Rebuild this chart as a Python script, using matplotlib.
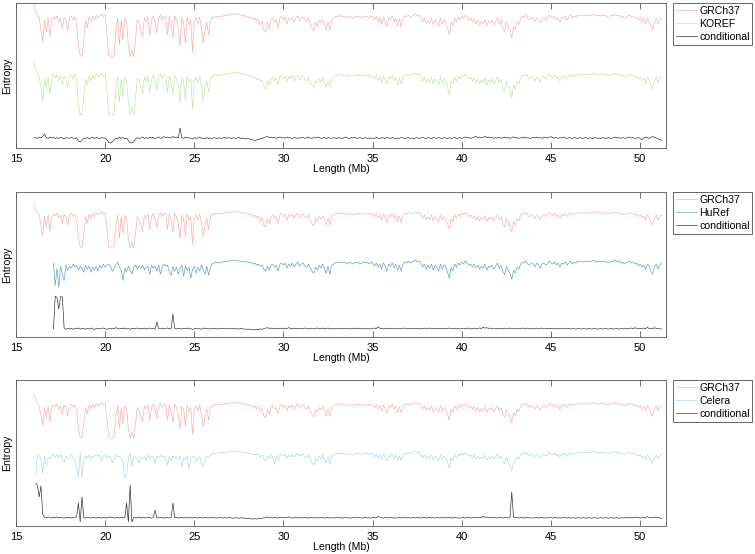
import numpy as np
import matplotlib
matplotlib.use("Agg")
import matplotlib.pyplot as plt

plt.rcParams["font.family"] = ["Liberation Sans", "DejaVu Sans"]

# sampling of all series (Mb)
step = 0.1

# entropy per window, millibits, GRCh37 from 16.0 Mb
grch37 = [
    1970, 1925, 1910, 1895, 1835, 1775, 1885, 1825, 1895, 1800,
    1885, 1900, 1890, 1905, 1875, 1895, 1845, 1900, 1885, 1835,
    1895, 1905, 1885, 1900, 1860, 1760, 1705, 1705, 1785, 1885,
    1845, 1900, 1875, 1905, 1885, 1910, 1895, 1905, 1915, 1900,
    1910, 1810, 1710, 1705, 1700, 1710, 1835, 1895, 1760, 1885,
    1785, 1895, 1875, 1760, 1700, 1735, 1700, 1785, 1885, 1870,
    1835, 1800, 1895, 1875, 1900, 1810, 1885, 1905, 1875, 1820,
    1895, 1910, 1885, 1905, 1895, 1810, 1900, 1860, 1795, 1905,
    1885, 1845, 1755, 1895, 1875, 1770, 1900, 1860, 1885, 1725,
    1875, 1895, 1865, 1900, 1845, 1770, 1835, 1875, 1810, 1885,
    1900, 1895, 1905, 1900, 1905, 1900, 1905, 1910, 1905, 1910,
    1910, 1915, 1915, 1915, 1910, 1915, 1910, 1905, 1910, 1900,
    1905, 1895, 1900, 1885, 1895, 1875, 1890, 1860, 1880, 1835,
    1825, 1875, 1845, 1885, 1895, 1875, 1885, 1845, 1895, 1905,
    1885, 1900, 1865, 1895, 1885, 1900, 1875, 1895, 1905, 1880,
    1895, 1900, 1885, 1875, 1895, 1865, 1845, 1830, 1875, 1855,
    1885, 1870, 1890, 1865, 1835, 1875, 1835, 1885, 1895, 1900,
    1905, 1900, 1910, 1900, 1905, 1900, 1895, 1905, 1900, 1895,
    1905, 1900, 1905, 1895, 1900, 1905, 1900, 1905, 1895, 1905,
    1900, 1885, 1905, 1875, 1895, 1865, 1900, 1880, 1850, 1895,
    1885, 1905, 1875, 1895, 1855, 1890, 1850, 1895, 1905, 1900,
    1910, 1900, 1905, 1910, 1915, 1905, 1910, 1900, 1875, 1895,
    1865, 1885, 1870, 1895, 1860, 1885, 1875, 1855, 1895, 1865,
    1885, 1875, 1845, 1810, 1875, 1855, 1895, 1875, 1900, 1885,
    1905, 1895, 1910, 1900, 1885, 1895, 1875, 1890, 1865, 1885,
    1860, 1880, 1865, 1890, 1855, 1880, 1870, 1885, 1860, 1880,
    1895, 1865, 1885, 1845, 1825, 1875, 1855, 1835, 1795, 1855,
    1835, 1875, 1860, 1895, 1905, 1900, 1910, 1895, 1885, 1900,
    1890, 1875, 1895, 1885, 1870, 1890, 1900, 1885, 1895, 1910,
    1900, 1890, 1905, 1885, 1895, 1875, 1900, 1890, 1905, 1885,
    1900, 1910, 1895, 1905, 1900, 1910, 1905, 1910, 1905, 1910,
    1905, 1910, 1905, 1910, 1915, 1905, 1910, 1905, 1910, 1905,
    1910, 1905, 1900, 1905, 1910, 1905, 1915, 1905, 1910, 1900,
    1905, 1895, 1900, 1905, 1910, 1900, 1905, 1895, 1900, 1885,
    1895, 1875, 1890, 1865, 1895, 1880, 1855, 1835, 1875, 1895,
    1865, 1890, 1895,
]

# KOREF from 16.0 Mb
koref = [
    1970, 1930, 1905, 1890, 1840, 1770, 1880, 1830, 1890, 1805,
    1880, 1905, 1885, 1900, 1870, 1895, 1850, 1895, 1880, 1840,
    1890, 1900, 1880, 1905, 1865, 1755, 1700, 1705, 1790, 1880,
    1850, 1895, 1870, 1900, 1880, 1905, 1890, 1900, 1910, 1895,
    1905, 1815, 1705, 1700, 1700, 1705, 1840, 1890, 1765, 1880,
    1790, 1890, 1870, 1765, 1700, 1740, 1700, 1780, 1880, 1875,
    1840, 1805, 1890, 1870, 1895, 1815, 1880, 1900, 1870, 1825,
    1890, 1905, 1880, 1900, 1890, 1815, 1895, 1865, 1800, 1900,
    1880, 1850, 1760, 1890, 1870, 1775, 1895, 1865, 1880, 1730,
    1870, 1890, 1860, 1895, 1850, 1775, 1840, 1870, 1815, 1880,
    1895, 1900, 1900, 1895, 1905, 1900, 1900, 1905, 1905, 1910,
    1905, 1910, 1915, 1910, 1910, 1915, 1905, 1905, 1910, 1900,
    1900, 1895, 1895, 1885, 1890, 1875, 1885, 1865, 1875, 1840,
    1830, 1870, 1850, 1880, 1890, 1870, 1885, 1850, 1890, 1900,
    1880, 1895, 1870, 1890, 1880, 1900, 1870, 1890, 1900, 1875,
    1890, 1895, 1880, 1870, 1890, 1860, 1850, 1835, 1870, 1860,
    1880, 1865, 1885, 1860, 1840, 1870, 1840, 1880, 1890, 1895,
    1900, 1900, 1905, 1895, 1900, 1900, 1890, 1900, 1895, 1895,
    1900, 1895, 1905, 1890, 1900, 1900, 1895, 1900, 1890, 1900,
    1895, 1880, 1900, 1870, 1890, 1860, 1895, 1875, 1855, 1890,
    1880, 1900, 1870, 1890, 1850, 1885, 1855, 1890, 1900, 1895,
    1905, 1895, 1900, 1905, 1910, 1900, 1905, 1895, 1870, 1890,
    1860, 1880, 1865, 1890, 1855, 1880, 1870, 1850, 1890, 1860,
    1880, 1870, 1840, 1800, 1870, 1850, 1890, 1870, 1895, 1880,
    1900, 1890, 1905, 1895, 1880, 1890, 1870, 1885, 1860, 1880,
    1855, 1875, 1860, 1885, 1850, 1875, 1865, 1880, 1855, 1875,
    1890, 1860, 1880, 1840, 1820, 1870, 1850, 1830, 1785, 1850,
    1830, 1870, 1855, 1890, 1900, 1895, 1905, 1890, 1880, 1895,
    1885, 1870, 1890, 1880, 1865, 1885, 1895, 1880, 1890, 1905,
    1895, 1885, 1900, 1880, 1890, 1870, 1895, 1885, 1900, 1880,
    1895, 1905, 1890, 1900, 1895, 1905, 1900, 1905, 1900, 1905,
    1900, 1905, 1900, 1905, 1910, 1900, 1905, 1900, 1905, 1900,
    1905, 1900, 1895, 1900, 1905, 1900, 1910, 1900, 1905, 1895,
    1900, 1890, 1895, 1900, 1905, 1895, 1900, 1890, 1895, 1880,
    1890, 1870, 1885, 1860, 1890, 1875, 1850, 1830, 1870, 1890,
    1860, 1885, 1890,
]

# HuRef from 17.1 Mb
huref = [
    1894, 1762, 1864, 1750, 1876, 1828, 1792, 1882, 1852,
    1876, 1864, 1888, 1870, 1882, 1852, 1876, 1864, 1840, 1882,
    1858, 1876, 1840, 1870, 1852, 1876, 1846, 1882, 1864, 1888,
    1870, 1882, 1888, 1876, 1846, 1864, 1882, 1900, 1870, 1852,
    1792, 1864, 1840, 1876, 1852, 1828, 1870, 1882, 1858, 1876,
    1864, 1882, 1852, 1870, 1876, 1828, 1882, 1864, 1876, 1846,
    1882, 1828, 1870, 1888, 1876, 1882, 1840, 1822, 1876, 1846,
    1870, 1828, 1864, 1882, 1816, 1876, 1852, 1870, 1804, 1858,
    1876, 1834, 1870, 1846, 1882, 1852, 1828, 1876, 1822, 1870,
    1888, 1894, 1900, 1894, 1900, 1894, 1900, 1906, 1900, 1906,
    1906, 1912, 1912, 1906, 1912, 1906, 1906, 1900, 1906, 1900,
    1900, 1894, 1900, 1888, 1894, 1882, 1888, 1876, 1882, 1858,
    1846, 1876, 1852, 1882, 1888, 1870, 1882, 1846, 1888, 1894,
    1882, 1894, 1864, 1888, 1876, 1894, 1870, 1888, 1900, 1876,
    1888, 1894, 1876, 1870, 1888, 1864, 1846, 1834, 1870, 1852,
    1882, 1864, 1888, 1858, 1834, 1876, 1828, 1882, 1888, 1894,
    1900, 1894, 1900, 1894, 1900, 1894, 1888, 1900, 1894, 1888,
    1900, 1894, 1900, 1888, 1894, 1900, 1894, 1900, 1888, 1900,
    1894, 1876, 1894, 1870, 1888, 1858, 1894, 1876, 1846, 1888,
    1876, 1894, 1864, 1888, 1852, 1882, 1846, 1888, 1900, 1894,
    1906, 1894, 1900, 1906, 1912, 1900, 1906, 1894, 1870, 1888,
    1858, 1882, 1864, 1888, 1852, 1882, 1870, 1846, 1888, 1858,
    1882, 1870, 1840, 1804, 1870, 1846, 1888, 1870, 1894, 1882,
    1900, 1888, 1906, 1894, 1882, 1888, 1870, 1888, 1864, 1882,
    1858, 1876, 1864, 1888, 1852, 1876, 1870, 1882, 1858, 1876,
    1894, 1864, 1882, 1846, 1828, 1876, 1852, 1834, 1798, 1852,
    1834, 1870, 1858, 1888, 1900, 1894, 1906, 1888, 1882, 1894,
    1888, 1870, 1894, 1882, 1864, 1888, 1894, 1882, 1888, 1906,
    1894, 1888, 1900, 1882, 1894, 1870, 1894, 1888, 1900, 1882,
    1894, 1906, 1888, 1900, 1894, 1906, 1900, 1906, 1900, 1906,
    1900, 1906, 1900, 1906, 1912, 1900, 1906, 1900, 1906, 1900,
    1906, 1900, 1894, 1900, 1906, 1900, 1912, 1900, 1906, 1894,
    1900, 1888, 1894, 1900, 1906, 1894, 1900, 1888, 1894, 1876,
    1888, 1870, 1882, 1858, 1888, 1876, 1846, 1828, 1870, 1888,
    1858, 1882, 1894,
]

# Celera from 16.1 Mb
celera = [
    1768, 1888, 1882, 1864, 1780, 1882, 1828, 1876, 1864,
    1882, 1894, 1870, 1888, 1876, 1894, 1858, 1846, 1882, 1870,
    1864, 1888, 1876, 1852, 1816, 1756, 1900, 1750, 1852, 1882,
    1870, 1888, 1864, 1882, 1876, 1894, 1882, 1888, 1852, 1882,
    1888, 1870, 1882, 1876, 1840, 1864, 1888, 1876, 1882, 1870,
    1852, 1750, 1768, 1864, 1900, 1822, 1876, 1882, 1870, 1840,
    1876, 1864, 1882, 1852, 1888, 1870, 1882, 1876, 1840, 1882,
    1870, 1888, 1876, 1882, 1864, 1828, 1876, 1852, 1882, 1870,
    1876, 1864, 1882, 1816, 1870, 1858, 1882, 1804, 1864, 1876,
    1882, 1852, 1870, 1876, 1846, 1816, 1864, 1882, 1870, 1888,
    1894, 1900, 1894, 1900, 1906, 1900, 1906, 1900, 1906, 1906,
    1912, 1906, 1912, 1906, 1906, 1912, 1906, 1900, 1906, 1900,
    1900, 1894, 1900, 1888, 1894, 1888, 1894, 1876, 1888, 1864,
    1852, 1882, 1864, 1888, 1876, 1834, 1882, 1852, 1888, 1894,
    1882, 1894, 1870, 1888, 1876, 1894, 1876, 1888, 1900, 1882,
    1888, 1894, 1876, 1870, 1888, 1864, 1840, 1828, 1870, 1852,
    1882, 1864, 1888, 1858, 1840, 1876, 1834, 1882, 1888, 1894,
    1900, 1894, 1900, 1894, 1900, 1894, 1888, 1900, 1894, 1888,
    1900, 1894, 1900, 1888, 1894, 1900, 1894, 1900, 1888, 1900,
    1894, 1876, 1894, 1870, 1888, 1864, 1894, 1876, 1852, 1888,
    1876, 1894, 1864, 1888, 1852, 1882, 1852, 1888, 1900, 1894,
    1906, 1894, 1900, 1906, 1912, 1900, 1906, 1894, 1870, 1888,
    1864, 1882, 1864, 1888, 1858, 1882, 1870, 1852, 1888, 1864,
    1882, 1870, 1846, 1810, 1870, 1852, 1888, 1870, 1894, 1882,
    1900, 1888, 1906, 1894, 1882, 1888, 1870, 1888, 1864, 1882,
    1864, 1876, 1864, 1888, 1858, 1876, 1870, 1882, 1864, 1876,
    1894, 1864, 1882, 1852, 1834, 1876, 1846, 1828, 1792, 1840,
    1852, 1876, 1864, 1888, 1900, 1894, 1906, 1888, 1882, 1894,
    1888, 1876, 1894, 1882, 1870, 1888, 1894, 1882, 1888, 1906,
    1894, 1888, 1900, 1882, 1894, 1876, 1894, 1888, 1900, 1882,
    1894, 1906, 1888, 1900, 1894, 1906, 1900, 1906, 1900, 1906,
    1900, 1906, 1900, 1906, 1912, 1900, 1906, 1900, 1906, 1900,
    1906, 1900, 1894, 1900, 1906, 1900, 1912, 1900, 1906, 1894,
    1900, 1888, 1894, 1900, 1906, 1894, 1900, 1888, 1894, 1882,
    1888, 1876, 1882, 1864, 1888, 1876, 1852, 1840, 1870, 1888,
    1864, 1882, 1894,
]

# conditional entropy GRCh37 | KOREF, from 16.0 Mb
cond_koref = [
    50, 52, 48, 55, 50, 58, 70, 52, 48, 55,
    50, 55, 47, 52, 48, 53, 50, 45, 52, 50,
    48, 53, 50, 46, 52, 35, 30, 38, 50, 48,
    52, 47, 50, 55, 48, 52, 50, 47, 53, 49,
    50, 40, 28, 25, 30, 40, 50, 45, 55, 48,
    52, 45, 50, 38, 28, 25, 30, 45, 52, 48,
    50, 55, 47, 52, 48, 55, 50, 53, 47, 52,
    55, 48, 52, 57, 50, 55, 52, 50, 58, 52,
    55, 50, 100, 52, 48, 55, 50, 52, 48, 45,
    52, 48, 50, 55, 47, 50, 45, 52, 48, 50,
    48, 52, 50, 47, 52, 48, 50, 53, 48, 52,
    50, 47, 52, 48, 50, 53, 47, 50, 48, 45,
    48, 45, 42, 40, 38, 40, 42, 45, 48, 52,
    55, 58, 52, 55, 50, 53, 48, 52, 55, 50,
    52, 48, 55, 50, 52, 47, 53, 50, 48, 52,
    50, 53, 48, 52, 55, 50, 48, 52, 50, 55,
    52, 48, 50, 53, 47, 52, 50, 48, 52, 50,
    48, 52, 50, 47, 52, 55, 50, 48, 52, 50,
    53, 48, 50, 52, 47, 50, 52, 48, 50, 47,
    50, 48, 52, 50, 47, 52, 50, 48, 53, 50,
    48, 52, 50, 46, 50, 48, 52, 50, 47, 50,
    52, 48, 50, 47, 50, 52, 48, 50, 53, 50,
    48, 52, 50, 47, 52, 50, 48, 53, 50, 48,
    52, 50, 47, 52, 48, 50, 53, 47, 50, 52,
    48, 52, 55, 50, 53, 48, 52, 55, 58, 52,
    55, 50, 53, 58, 52, 55, 50, 53, 48, 52,
    50, 53, 48, 52, 55, 50, 53, 48, 52, 56,
    50, 53, 48, 52, 50, 55, 50, 52, 48, 50,
    53, 50, 55, 50, 52, 48, 55, 52, 50, 53,
    57, 52, 50, 53, 48, 52, 50, 55, 50, 48,
    52, 50, 48, 53, 50, 47, 52, 50, 48, 52,
    50, 48, 52, 47, 50, 52, 48, 50, 47, 52,
    50, 48, 52, 50, 47, 52, 55, 50, 53, 48,
    52, 50, 48, 53, 55, 50, 52, 48, 50, 53,
    48, 42, 50, 55, 52, 48, 53, 58, 52, 50,
    47, 42, 38,
]

# conditional entropy GRCh37 | HuRef, from 17.1 Mb
cond_huref = [
    47, 240, 230, 165, 238, 235, 52, 45, 50,
    47, 52, 45, 50, 48, 53, 46, 50, 52, 45,
    50, 47, 53, 48, 45, 50, 52, 47, 50, 53,
    48, 45, 50, 47, 52, 48, 55, 50, 47, 52,
    48, 53, 47, 50, 45, 52, 48, 50, 53, 47,
    50, 48, 52, 47, 50, 53, 48, 50, 47, 88,
    50, 47, 52, 48, 50, 53, 47, 50, 135, 50,
    47, 50, 52, 47, 50, 48, 53, 47, 50, 45,
    48, 52, 47, 50, 45, 53, 48, 50, 47, 50,
    52, 48, 50, 47, 50, 52, 48, 50, 47, 50,
    48, 50, 47, 50, 48, 47, 50, 48, 47, 45,
    47, 45, 43, 42, 44, 42, 45, 47, 45, 50,
    52, 55, 50, 53, 48, 52, 50, 47, 52, 50,
    48, 52, 50, 55, 50, 47, 52, 50, 48, 52,
    50, 48, 53, 50, 47, 52, 50, 48, 50, 53,
    48, 50, 52, 47, 50, 53, 48, 50, 47, 50,
    52, 48, 50, 47, 52, 50, 48, 50, 47, 52,
    50, 48, 52, 50, 47, 50, 52, 48, 50, 47,
    50, 53, 48, 60, 52, 50, 47, 52, 48, 50,
    52, 48, 50, 47, 50, 52, 48, 50, 53, 48,
    50, 47, 52, 50, 48, 52, 50, 47, 50, 52,
    48, 50, 53, 48, 50, 47, 52, 50, 48, 50,
    52, 48, 50, 53, 47, 50, 52, 48, 50, 47,
    50, 52, 48, 50, 53, 47, 50, 52, 48, 50,
    53, 50, 58, 52, 55, 50, 53, 48, 52, 50,
    48, 52, 50, 47, 52, 50, 48, 53, 50, 47,
    52, 50, 48, 50, 53, 47, 50, 52, 48, 50,
    47, 50, 52, 48, 50, 53, 47, 50, 48, 52,
    50, 47, 52, 50, 48, 50, 47, 52, 50, 48,
    50, 47, 50, 48, 47, 50, 48, 47, 50, 48,
    47, 50, 48, 47, 50, 48, 47, 48, 50, 47,
    48, 50, 47, 48, 50, 47, 48, 50, 47, 48,
    50, 47, 52, 48, 50, 53, 48, 55, 50, 52,
    48, 50, 53, 48, 57, 50, 52, 48, 55, 50,
    52, 48, 47,
]

# conditional entropy GRCh37 | Celera, from 16.1 Mb
cond_celera = [
    255, 245, 175, 240, 70, 52, 48, 55, 50,
    47, 52, 50, 55, 48, 52, 50, 47, 53, 50,
    52, 48, 50, 53, 55, 138, 25, 174, 50, 47,
    52, 50, 48, 53, 50, 47, 52, 50, 48, 53,
    50, 47, 55, 50, 52, 48, 50, 53, 47, 50,
    52, 48, 138, 24, 246, 24, 52, 48, 50, 53,
    47, 52, 50, 48, 53, 50, 47, 52, 96, 50,
    48, 52, 50, 47, 53, 50, 48, 52, 138, 50,
    52, 48, 50, 53, 47, 50, 52, 48, 50, 47,
    52, 50, 48, 53, 50, 47, 52, 50, 48, 50,
    52, 48, 50, 47, 52, 50, 48, 50, 47, 52,
    50, 48, 47, 50, 48, 47, 50, 48, 47, 45,
    47, 45, 43, 42, 44, 42, 45, 47, 45, 50,
    52, 55, 50, 53, 48, 52, 50, 47, 52, 50,
    48, 52, 50, 55, 50, 47, 52, 50, 48, 52,
    50, 48, 53, 50, 47, 52, 50, 48, 50, 53,
    48, 50, 52, 47, 50, 53, 48, 50, 47, 50,
    52, 48, 50, 47, 52, 50, 48, 50, 47, 52,
    50, 48, 52, 50, 47, 50, 52, 48, 50, 47,
    50, 53, 48, 58, 52, 50, 47, 52, 48, 50,
    52, 48, 50, 47, 50, 52, 48, 50, 53, 48,
    50, 47, 52, 50, 48, 52, 50, 47, 50, 52,
    48, 50, 53, 48, 50, 47, 52, 50, 48, 50,
    52, 48, 50, 53, 47, 50, 52, 48, 50, 47,
    50, 52, 48, 50, 53, 47, 50, 52, 48, 50,
    53, 50, 58, 52, 55, 50, 53, 48, 52, 50,
    48, 52, 50, 47, 52, 50, 48, 53, 204, 50,
    52, 50, 48, 50, 53, 47, 50, 52, 48, 50,
    47, 50, 52, 48, 50, 53, 47, 50, 48, 52,
    50, 47, 52, 50, 48, 50, 47, 52, 50, 48,
    50, 47, 50, 48, 47, 50, 48, 47, 50, 48,
    47, 50, 48, 47, 50, 48, 47, 48, 50, 47,
    48, 50, 47, 48, 50, 47, 48, 50, 47, 48,
    50, 47, 52, 48, 50, 53, 48, 55, 50, 52,
    48, 50, 53, 48, 57, 50, 52, 48, 55, 50,
    52, 48, 45,
]

# (label, values, start Mb, colour, display offset in millibits)
panels = [
    {"ylim": 725, "series": [
        ("GRCh37", grch37, 16.0, "#f7aaaa", -1245),
        ("KOREF", koref, 16.0, "#bfe3a0", -1535),
        ("conditional", cond_koref, 16.0, "0.15", 0)]},
    {"ylim": 853, "series": [
        ("GRCh37", grch37, 16.0, "#f7aaaa", -1177),
        ("HuRef", huref, 17.1, "#5a98c8", -1459),
        ("conditional", cond_huref, 17.1, "0.15", 0)]},
    {"ylim": 876, "series": [
        ("GRCh37", grch37, 16.0, "#f7aaaa", -1174),
        ("Celera", celera, 16.1, "#add2e6", -1462),
        ("conditional", cond_celera, 16.1, "0.15", 0)]},
]

fig = plt.figure(figsize=(7.55, 5.54), dpi=100)
W, H = 755.0, 554.0
boxes = [(3, 148), (192, 337), (380, 526)]  # top, bottom in pixels

for p, (top, bottom) in zip(panels, boxes):
    ax = fig.add_axes([16 / W, 1 - bottom / H, 650 / W, (bottom - top) / H])
    for label, vals, start, color, off in p["series"]:
        v = np.array(vals, dtype=float)
        x = start + step * np.arange(len(v))
        ax.plot(x, (v + off) / 1000.0, color=color, lw=0.45, label=label)
    ax.set_xlim(15, 51.45)
    ax.set_ylim(0, p["ylim"] / 1000.0)
    ax.set_xticks([15, 20, 25, 30, 35, 40, 45, 50])
    ax.set_yticks([])
    ax.tick_params(axis="x", direction="in", top=True, length=4, width=0.6,
                   color="0.35", labelsize=8, pad=4)
    for s in ax.spines.values():
        s.set_color("0.35")
        s.set_linewidth(0.6)
    ax.set_xlabel("Length (Mb)", fontsize=7.6, labelpad=0)
    ax.set_ylabel("Entropy", fontsize=7.6, labelpad=3)
    leg = ax.legend(loc="upper left", bbox_to_anchor=(1.011, 1.0), borderaxespad=0,
                    fontsize=7.6, fancybox=False, edgecolor="0.3", framealpha=1,
                    handlelength=2.0, handletextpad=0.2, labelspacing=0.3,
                    borderpad=0.25)
    leg.get_frame().set_linewidth(0.6)

fig.savefig("out.png", dpi=100)
